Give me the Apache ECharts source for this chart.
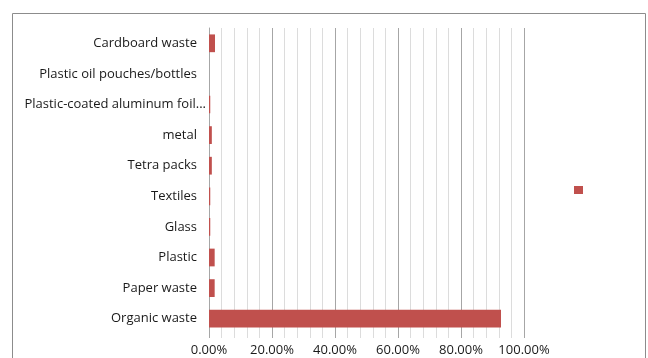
<!DOCTYPE html>
<html><head><meta charset="utf-8">
<script src="https://cdn.jsdelivr.net/npm/echarts@6/dist/echarts.min.js"></script>
<style>html,body{margin:0;padding:0;background:#fff}#c{width:648px;height:358px}</style>
</head><body><div id="c"></div>
<script>
const categories = ['Organic waste','Paper waste','Plastic','Glass','Textiles','Tetra packs','metal','Plastic-coated aluminum foil...','Plastic oil pouches/bottles','Cardboard waste'];
const values = [0.927, 0.018, 0.018, 0.004, 0.004, 0.009, 0.009, 0.004, 0.0, 0.019];
const tickLabelsFmt = v => (v*100).toFixed(2) + '%';
const seriesName = ' ';
const chart = echarts.init(document.getElementById('c'));
const font = 'Open Sans';
const catData = categories.map(c => c.endsWith('...') ? {value:c} : {value:c, textStyle:{padding:[0,9,0,0]}});
chart.setOption({
  animation: false,
  textStyle: {fontFamily: font},
  graphic: [{type:'rect', shape:{x:12.5,y:13.5,width:633,height:360}, style:{fill:'none', stroke:'#8c8c8c', lineWidth:1}}],
  legend: {data:[seriesName], left:574, top:186, itemWidth:9, itemHeight:8, icon:'rect', textStyle:{fontSize:1}, itemGap:0, padding:0},
  grid: {left:209, right:124, top:28, bottom:24, containLabel:false},
  xAxis: {type:'value', min:0, max:1, interval:0.2,
    axisLine:{show:false},
    axisTick:{show:true, length:4, lineStyle:{color:'#a6a6a6'}},
    minorTick:{show:true, splitNumber:5, length:4, lineStyle:{color:'#dcdcdc'}},
    axisLabel:{formatter:tickLabelsFmt, color:'#1a1a1a', fontSize:13, fontFamily:font, margin:10},
    splitLine:{show:true, lineStyle:{color:'#a6a6a6', width:1}},
    minorSplitLine:{show:true, lineStyle:{color:'#dcdcdc', width:1}}
  },
  yAxis: {type:'category', data:catData,
    axisLine:{show:true, lineStyle:{color:'#a6a6a6'}}, axisTick:{show:false},
    axisLabel:{color:'#1a1a1a', fontSize:13, fontFamily:font, margin:3}},
  series: [{name:seriesName, type:'bar', data:values, barCategoryGap:'42%', itemStyle:{color:'#C0504D'}}]
});
</script></body></html>
